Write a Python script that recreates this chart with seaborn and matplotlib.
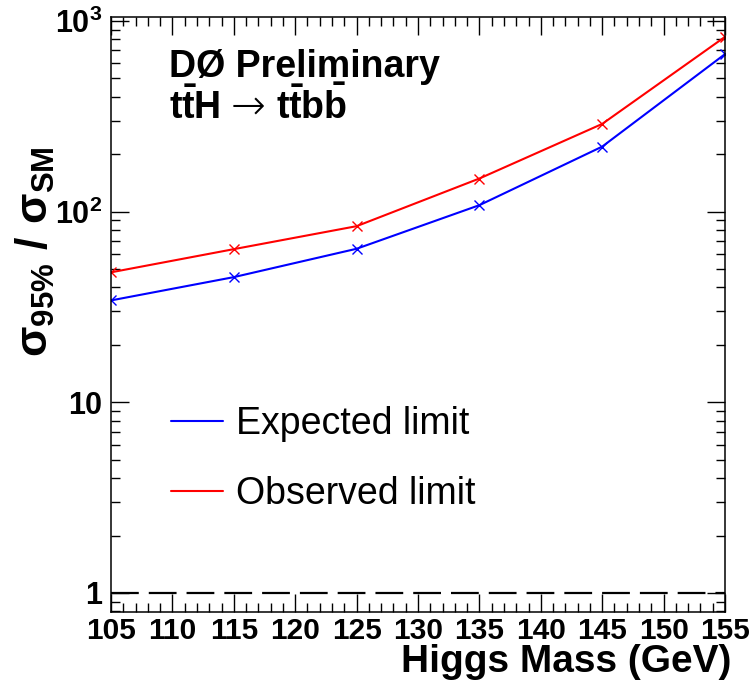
import matplotlib
matplotlib.use("Agg")
import matplotlib.pyplot as plt
import matplotlib.ticker as mticker
from matplotlib.lines import Line2D
import numpy as np
import pandas as pd
import seaborn as sns

# Higgs mass points (GeV) and 95% CL limits on sigma/sigma_SM
masses = [105, 115, 125, 135, 145, 155]
expected = [34.2, 45.3, 63.8, 108, 219, 669]
observed = [48.0, 63.5, 83.8, 149, 288, 824]

series_names = ["Expected limit", "Observed limit"]
series_colors = ["#0000ff", "#ff0000"]

x_ticks = [105, 110, 115, 120, 125, 130, 135, 140, 145, 150, 155]
y_ticks = [1, 10, 100, 1000]
y_tick_labels = ["1", "10", r"$\mathbf{10^{2}}$", r"$\mathbf{10^{3}}$"]

sns.set_style("ticks")
plt.rcParams["font.family"] = ["Liberation Sans", "DejaVu Sans"]
plt.rcParams["text.color"] = "black"
plt.rcParams["axes.labelcolor"] = "black"
plt.rcParams["xtick.color"] = "black"
plt.rcParams["ytick.color"] = "black"
plt.rcParams["mathtext.fontset"] = "custom"
plt.rcParams["mathtext.rm"] = "Liberation Sans:bold"
plt.rcParams["mathtext.bf"] = "Liberation Sans:bold"
plt.rcParams["mathtext.it"] = "Liberation Sans:bold"
plt.rcParams["mathtext.sf"] = "Liberation Sans:bold"
plt.rcParams["mathtext.default"] = "bf"

frames = {
    series_names[0]: pd.DataFrame({"mass": masses, "limit": expected}),
    series_names[1]: pd.DataFrame({"mass": masses, "limit": observed}),
}

fig = plt.figure(figsize=(7.53, 6.93), dpi=100)
ax = fig.add_axes([111 / 753, 1 - 612 / 693, (725 - 111) / 753, (612 - 17) / 693])

for name, color in zip(series_names, series_colors):
    sns.lineplot(data=frames[name], x="mass", y="limit", color=color,
                 marker="x", markersize=7, markeredgewidth=1.0,
                 markeredgecolor=color, linewidth=1.5, ax=ax, legend=False)

# SM reference line
ax.axhline(1.0, color="black", linewidth=1.6, dashes=(12.5, 4.5))

ax.set_yscale("log")
ax.set_xlim(105, 155)
ax.set_ylim(0.795, 1047)

ax.set_xticks(x_ticks)
ax.set_xticklabels([str(v) for v in x_ticks])
ax.xaxis.set_minor_locator(mticker.MultipleLocator(1))
ax.yaxis.set_major_locator(mticker.FixedLocator(y_ticks))
ax.yaxis.set_major_formatter(mticker.FixedFormatter(y_tick_labels))
ax.yaxis.set_minor_locator(mticker.LogLocator(base=10, subs=np.arange(2, 10)))
ax.yaxis.set_minor_formatter(mticker.NullFormatter())

ax.tick_params(which="both", direction="in", top=True, right=True, width=1.0, color="black")
ax.tick_params(which="major", length=13)
ax.tick_params(which="minor", length=6.5)
ax.tick_params(axis="x", which="major", labelsize=21.5, pad=3.5)
ax.tick_params(axis="y", which="major", labelsize=22, pad=6.5)
for lab in ax.get_xticklabels() + ax.get_yticklabels():
    lab.set_fontweight("bold")

for sp in ax.spines.values():
    sp.set_visible(True)
    sp.set_linewidth(1.1)
    sp.set_color("black")

ax.set_xlabel("")
ax.set_ylabel("")

fig.text(731 / 753, 1 - 672 / 693, "Higgs Mass (GeV)", ha="right", va="baseline",
         fontsize=28, fontweight="bold")
fig.text(35 / 753, 1 - 252 / 693,
         r"$\sigma_{95\%}\ /\ \sigma_{SM}$", rotation=90, ha="center", va="center",
         fontsize=32)

fig.text(169 / 753, 1 - 77 / 693, "DØ Preliminary", ha="left", va="baseline",
         fontsize=27, fontweight="bold")

# Process line: tt̄H -> tt̄bb̄, built from three pieces laid out left to right
renderer = fig.canvas.get_renderer()
inv = fig.transFigure.inverted()
x_cursor = 169 / 753
y_base = 1 - 119 / 693
pieces = [
    (r"$t\bar{t}H$", {"fontsize": 27}),
    ("\u2192", {"fontsize": 30, "family": "DejaVu Sans", "fontweight": "light"}),
    (r"$t\bar{t}b\bar{b}$", {"fontsize": 27}),
]
gaps = [10, 11, 0]
for (txt, kw), gap in zip(pieces, gaps):
    t = fig.text(x_cursor, y_base, txt, ha="left", va="baseline", **kw)
    bb = t.get_window_extent(renderer=renderer)
    x_cursor = inv.transform((bb.x1 + gap, bb.y0))[0]

handles = [Line2D([], [], color=c, linewidth=1.5) for c in series_colors]
ax.legend(handles, series_names, loc="upper left", frameon=False,
          bbox_to_anchor=(171 / 753, 1 - 406 / 693), bbox_transform=fig.transFigure,
          fontsize=27, handlelength=1.39, handletextpad=0.35, labelspacing=0.91,
          borderaxespad=0, borderpad=0)

fig.savefig("out.png", dpi=100)
